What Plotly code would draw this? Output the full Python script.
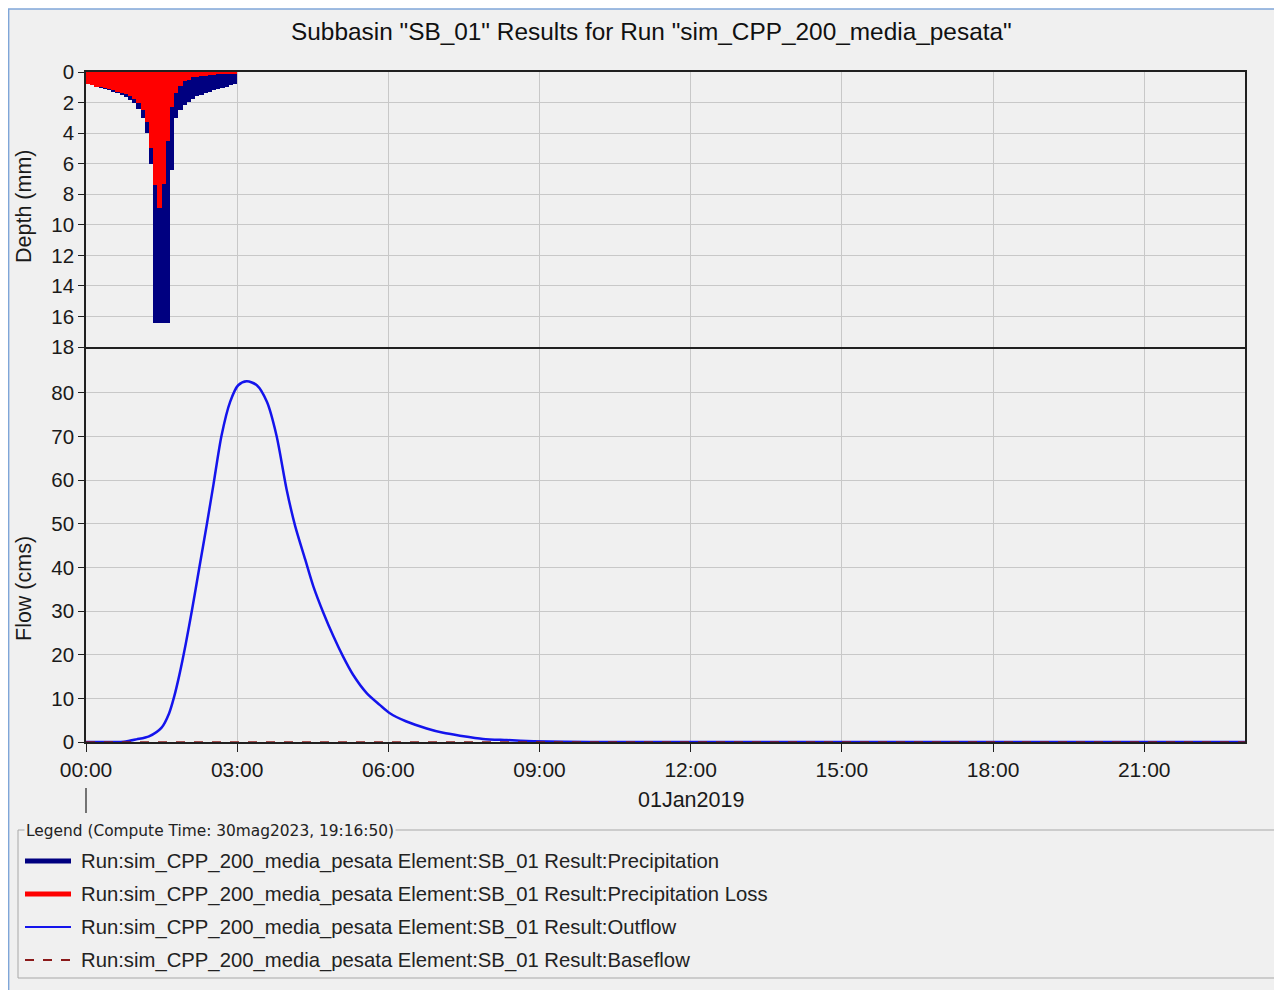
import plotly.graph_objects as go
from datetime import datetime, timedelta

# page has an 8px body margin; the figure is sized/positioned to compensate
OFF = 8
W, H = 1282 - OFF, 990 - OFF

# ---------------- data ----------------
start = datetime(2019, 1, 1, 0, 0)
interval_minutes = 5
precip_interval_start_min = [0, 5, 10, 15, 20, 25, 30, 35, 40, 45, 50, 55,
                             60, 65, 70, 75, 80, 85, 90, 95, 100, 105, 110, 115,
                             120, 125, 130, 135, 140, 145, 150, 155, 160, 165, 170, 175]
precipitation_mm = [0.80, 0.88, 0.95, 1.02, 1.10, 1.20, 1.30, 1.40, 1.52, 1.65, 1.80, 2.00,
                    2.40, 3.00, 4.00, 6.00, 16.4, 16.4, 16.4, 16.4, 6.40, 3.00, 2.50, 2.15,
                    1.95, 1.75, 1.60, 1.48, 1.38, 1.28, 1.20, 1.12, 1.05, 0.95, 0.88, 0.80]
precip_loss_mm = [0.80, 0.88, 0.95, 1.00, 1.06, 1.13, 1.20, 1.28, 1.36, 1.45, 1.58, 1.75,
                  2.05, 2.50, 3.30, 5.00, 7.40, 8.90, 7.30, 4.50, 2.30, 1.40, 0.90, 0.60,
                  0.50, 0.35, 0.30, 0.26, 0.23, 0.20, 0.18, 0.16, 0.14, 0.12, 0.10, 0.08]

outflow_hours = [0.0, 0.5, 0.75, 1.0, 1.25, 1.5, 1.65, 1.75, 1.85, 1.98, 2.1, 2.25,
                 2.4, 2.53, 2.69, 2.86, 3.02, 3.19, 3.39, 3.59, 3.78, 3.98, 4.15, 4.35,
                 4.51, 4.71, 4.91, 5.1, 5.3, 5.57, 5.83, 6.03, 6.36, 6.76, 7.09, 7.42,
                 7.88, 8.35, 8.88, 9.5, 10.0, 23.0]
outflow_cms = [0.0, 0.0, 0.05, 0.6, 1.3, 3.3, 6.6, 10.4, 15.2, 22.5, 30.0, 40.0,
               50.0, 59.0, 70.2, 77.9, 81.7, 82.6, 81.7, 77.9, 70.2, 57.9, 49.5, 41.8,
               35.7, 29.6, 24.2, 19.6, 15.4, 11.2, 8.5, 6.6, 4.7, 3.1, 2.1, 1.45,
               0.7, 0.45, 0.2, 0.05, 0.0, 0.0]
baseflow_hours = [0.0, 23.0]
baseflow_cms = [0.0, 0.0]

x_tick_hours = [0, 3, 6, 9, 12, 15, 18, 21]
x_tick_labels = ["00:00", "03:00", "06:00", "09:00", "12:00", "15:00", "18:00", "21:00"]
depth_ticks = [0, 2, 4, 6, 8, 10, 12, 14, 16, 18]
flow_ticks = [0, 10, 20, 30, 40, 50, 60, 70, 80]

title_text = 'Subbasin "SB_01" Results for Run "sim_CPP_200_media_pesata"'
legend_title = "Legend (Compute Time: 30mag2023, 19:16:50)"
prefix = "Run:sim_CPP_200_media_pesata Element:SB_01 Result:"
names = [prefix + "Precipitation", prefix + "Precipitation Loss",
         prefix + "Outflow", prefix + "Baseflow"]
date_label = "01Jan2019"

# ---------------- helpers (page pixel -> paper fraction) ----------------
def px(x):
    return max(0.0, (x - OFF) / W)

def py(y):
    return min(1.0, 1 - (y - OFF) / H)

FONT = "Liberation Sans, Arial, sans-serif"
C_PREC = "#000080"
C_LOSS = "#FF0000"
C_OUT = "#1414EC"
C_BASE = "#8B1A1A"
GRID = "#C8C8C8"
TXT = "#1a1a1a"

bar_x = [start + timedelta(minutes=m) for m in precip_interval_start_min]
bar_w = interval_minutes * 60 * 1000
out_x = [start + timedelta(hours=h) for h in outflow_hours]
base_x = [start + timedelta(hours=h) for h in baseflow_hours]
tickvals = [start + timedelta(hours=h) for h in x_tick_hours]
x_range = [start, start + timedelta(hours=23)]

fig = go.Figure()
fig.add_trace(go.Bar(x=bar_x, y=precipitation_mm, width=bar_w, offset=0,
                     marker=dict(color=C_PREC, line=dict(width=0)),
                     name=names[0], xaxis="x2", yaxis="y2"))
fig.add_trace(go.Bar(x=bar_x, y=precip_loss_mm, width=bar_w, offset=0,
                     marker=dict(color=C_LOSS, line=dict(width=0)),
                     name=names[1], xaxis="x2", yaxis="y2"))
fig.add_trace(go.Scatter(x=out_x, y=outflow_cms, mode="lines",
                         line=dict(color=C_OUT, width=2.5, shape="spline", smoothing=0.8),
                         name=names[2], xaxis="x", yaxis="y"))
fig.add_trace(go.Scatter(x=base_x, y=baseflow_cms, mode="lines",
                         line=dict(color=C_BASE, width=1.5, dash="dash"),
                         name=names[3], xaxis="x", yaxis="y"))

xdom = [px(86), px(1245)]
common_x = dict(type="date", range=x_range, domain=xdom, tickvals=tickvals,
                showgrid=True, gridcolor=GRID, gridwidth=1, showline=True,
                linecolor="#202020", linewidth=1.5, mirror=True, zeroline=False,
                automargin=False)
common_y = dict(showgrid=True, gridcolor=GRID, showline=True, linecolor="#202020",
                linewidth=1.5, mirror=True, ticks="outside", ticklen=6, automargin=False,
                tickcolor="#202020", zeroline=False,
                tickfont=dict(size=20.5, family=FONT, color=TXT))

fig.update_layout(
    width=W, height=H, autosize=False,
    margin=dict(l=0, r=0, t=0, b=0, pad=0, autoexpand=False),
    paper_bgcolor="white", plot_bgcolor="white",
    barmode="overlay", bargap=0, showlegend=False,
    font=dict(family=FONT, size=20, color=TXT),
    xaxis=dict(**common_x, anchor="y", ticktext=x_tick_labels, ticks="outside",
               ticklen=8, tickcolor="#202020",
               tickfont=dict(size=21, family=FONT, color=TXT)),
    xaxis2=dict(**common_x, anchor="y2", matches="x", showticklabels=False, ticks=""),
    yaxis=dict(**common_y, domain=[py(742), py(349)], range=[0, 90], tickvals=flow_ticks),
    yaxis2=dict(**common_y, domain=[py(347), py(72)], range=[18, 0], tickvals=depth_ticks),
)

shapes = []
# window background and frame
shapes.append(dict(type="rect", xref="paper", yref="paper", x0=px(7), x1=1,
                   y0=0, y1=py(9), fillcolor="#F0F0F0", line=dict(width=0),
                   layer="below"))
shapes.append(dict(type="line", xref="paper", yref="paper", x0=px(7), x1=1,
                   y0=py(9), y1=py(9), line=dict(color="#7FA6D8", width=1.5)))
shapes.append(dict(type="line", xref="paper", yref="paper", x0=px(7) + 0.0005,
                   x1=px(7) + 0.0005, y0=0, y1=py(9),
                   line=dict(color="#7FA6D8", width=1.5)))
# date marker line
shapes.append(dict(type="line", xref="paper", yref="paper", x0=px(86), x1=px(86),
                   y0=py(788), y1=py(813), line=dict(color="#202020", width=1.2)))
# legend box
shapes.append(dict(type="rect", xref="paper", yref="paper", x0=px(18), x1=px(1281),
                   y0=py(978), y1=py(830), line=dict(color="#A8A8A8", width=1),
                   fillcolor="rgba(0,0,0,0)"))
legend_y = [861, 894, 927, 960]
sw_styles = [dict(color=C_PREC, width=5), dict(color=C_LOSS, width=5),
             dict(color=C_OUT, width=2), dict(color=C_BASE, width=2, dash="dash")]
for yy, st in zip(legend_y, sw_styles):
    shapes.append(dict(type="line", xref="paper", yref="paper", x0=px(25), x1=px(71),
                       y0=py(yy), y1=py(yy), line=st))
fig.update_layout(shapes=shapes)

ann = []
ann.append(dict(text=title_text, x=px(651), y=py(32), xref="paper", yref="paper",
                showarrow=False, font=dict(size=24.4, family=FONT, color="#111"),
                xanchor="center", yanchor="middle"))
ann.append(dict(text="Depth (mm)", x=px(24), y=py(207), xref="paper", yref="paper",
                showarrow=False, textangle=-90, font=dict(size=21.5, family=FONT, color=TXT),
                xanchor="center", yanchor="middle"))
ann.append(dict(text="Flow (cms)", x=px(24), y=py(589), xref="paper", yref="paper",
                showarrow=False, textangle=-90, font=dict(size=21.5, family=FONT, color=TXT),
                xanchor="center", yanchor="middle"))
ann.append(dict(text=date_label, x=px(691), y=py(800), xref="paper", yref="paper",
                showarrow=False, font=dict(size=21.5, family=FONT, color=TXT),
                xanchor="center", yanchor="middle"))
ann.append(dict(text=legend_title, x=px(24), y=py(831), xref="paper", yref="paper",
                showarrow=False, font=dict(size=15.4, family="DejaVu Sans, sans-serif",
                                           color="#222"),
                xanchor="left", yanchor="middle", bgcolor="#F0F0F0", borderpad=1))
for yy, nm in zip(legend_y, names):
    ann.append(dict(text=nm, x=px(79), y=py(yy), xref="paper", yref="paper",
                    showarrow=False, font=dict(size=20.3, family=FONT, color="#222"),
                    xanchor="left", yanchor="middle"))
fig.update_layout(annotations=ann)

fig.write_html("out.html", config={"responsive": False})
